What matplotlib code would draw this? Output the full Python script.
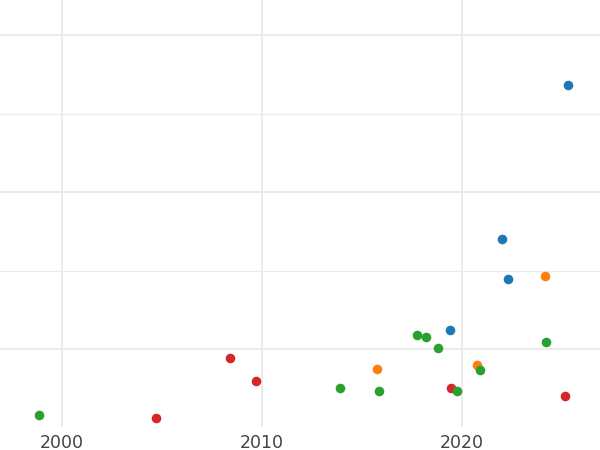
import matplotlib
matplotlib.use("Agg")
import matplotlib.pyplot as plt
from matplotlib.ticker import MultipleLocator

# values (y in arbitrary units, gridlines every 5)
blue_x = [2025.3, 2022.0, 2022.3, 2019.4]
blue_y = [26.82, 17.01, 14.46, 11.21]
orange_x = [2024.15, 2015.75, 2020.75]
orange_y = [14.65, 8.73, 8.98]
red_x = [2004.7, 2008.4, 2009.7, 2019.45, 2025.15]
red_y = [5.61, 9.43, 7.96, 7.52, 7.01]
green_x = [1998.85, 2013.9, 2015.85, 2017.75, 2018.2, 2018.8, 2019.75, 2020.9, 2024.2]
green_y = [5.80, 7.52, 7.32, 10.89, 10.76, 10.06, 7.32, 8.66, 10.45]

xticks = [2000, 2010, 2020]

fig = plt.figure(figsize=(6, 4.5), dpi=100)
ax = fig.add_axes([0, 0.051, 1, 0.949])

for xs, ys, c in [(blue_x, blue_y, "#1f77b4"), (orange_x, orange_y, "#ff7f0e"),
                  (red_x, red_y, "#d62728"), (green_x, green_y, "#2ca02c")]:
    ax.scatter(xs, ys, s=48, color=c, linewidths=0, zorder=3)

ax.set_xlim(1996.9, 2026.9)
ax.set_ylim(5.03, 32.23)
ax.set_xticks(xticks)
ax.yaxis.set_major_locator(MultipleLocator(10))
ax.yaxis.set_minor_locator(MultipleLocator(5))
ax.set_yticklabels([])
ax.tick_params(axis="both", which="both", length=0)
ax.tick_params(axis="x", labelsize=12.5, labelcolor="#444444", pad=5)
ax.grid(True, which="major", color="#ebebeb", linewidth=1.4)
ax.grid(True, which="minor", axis="y", color="#ebebeb", linewidth=0.9)
ax.set_axisbelow(True)
for s in ax.spines.values():
    s.set_visible(False)

fig.savefig("out.png", dpi=100)
